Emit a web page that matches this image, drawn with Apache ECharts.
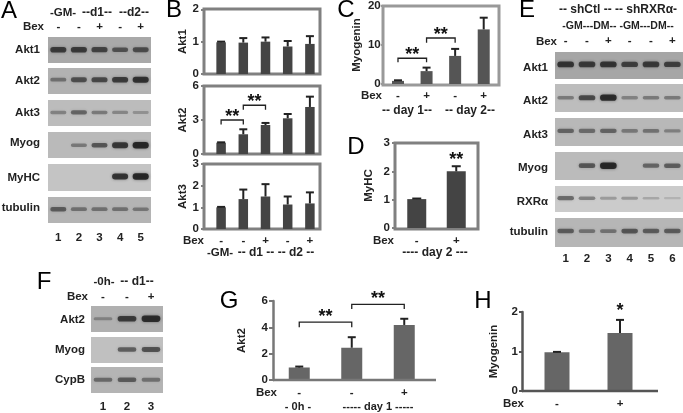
<!DOCTYPE html>
<html><head><meta charset="utf-8">
<style>html,body{margin:0;padding:0;background:#fff}#c{width:683px;height:413px;filter:blur(0.35px)}</style>
<script src="https://cdn.jsdelivr.net/npm/echarts@6/dist/echarts.min.js"></script>
</head><body><div id="c"></div>
<script>
// ---------- data ----------
const bexA = ['-','-','+','-','+'];
const lanesA = ['1','2','3','4','5'];
const blotNamesA = ['Akt1','Akt2','Akt3','Myog','MyHC','tubulin'];
const blotA_Akt1 = [.8,.8,.72,.6,.65];
const blotA_Akt2 = [.4,.65,.7,.8,.9];
const blotA_Akt3 = [.3,.5,.35,.28,.2];
const blotA_Myog = [0,.35,.6,.85,1];
const blotA_MyHC = [0,0,0,.9,1];
const blotA_tubulin = [.55,.4,.4,.4,.35];

const bexE = ['-','-','+','-','-','+'];
const lanesE = ['1','2','3','4','5','6'];
const blotNamesE = ['Akt1','Akt2','Akt3','Myog','RXRα','tubulin'];
const blotE_Akt1 = [.85,.8,.85,.75,.8,.75];
const blotE_Akt2 = [.35,.7,.95,.3,.35,.35];
const blotE_Akt3 = [.5,.45,.5,.35,.4,.3];
const blotE_Myog = [0,.6,1,0,.5,.55];
const blotE_RXRa = [.5,.35,.2,.22,.12,.05];
const blotE_tubulin = [.55,.4,.4,.6,.55,.55];

const bexF = ['-','-','+'];
const lanesF = ['1','2','3'];
const blotNamesF = ['Akt2','Myog','CypB'];
const blotF_Akt2 = [.25,.8,.95];
const blotF_Myog = [0,.55,.65];
const blotF_CypB = [.45,.55,.4];

const bAkt1 = [.98,.97,1.0,.85,.93];
const bAkt1Err = [1.0,1.11,1.13,1.02,1.17];
const bAkt2 = [1,1.74,2.56,3.15,4.15];
const bAkt2Err = [1.03,2.18,2.74,3.53,5.06];
const bAkt3 = [1,1.38,1.5,1.13,1.18];
const bAkt3Err = [1.02,1.82,2.07,1.5,1.69];
const bBrackets = [[0,1,3.0,2.6],[1,2,4.3,3.9]];

const cBex = ['-','+','-','+'];
const cMyogenin = [.8,3.3,7.2,14];
const cErr = [.95,4.2,9,17];
const cBrackets = [[0,1,6.6,5.6],[1,2,11.8,10.6]];

const dBex = ['-','+'];
const dMyHC = [1.02,2.0];
const dErr = [1.04,2.18];
const dStars = [[1,1,2.5,2.5]];

const gBex = ['-','-','+'];
const gAkt2 = [.95,2.45,4.18];
const gErr = [1.02,3.25,4.65];
const gBrackets = [[0,1,4.4,4.0],[1,2,5.75,5.4]];

const hBex = ['-','+'];
const hMyogenin = [.98,1.47];
const hErr = [.99,1.8];
const hStars = [[1,1,2.1,2.1]];

const panelLetters = ['A','B','C','D','E','F','G','H'];
const headA = ['-GM-','--d1--','--d2--'];
const footB = ['-GM-','-- d1 --','-- d2 --'];
const footC = ['-- day 1--','-- day 2--'];
const footD = ['---- day 2 ---'];
const headE = ['-- shCtl -- -- shRXRα-','-GM---DM-- -GM---DM--'];
const headF = ['-0h-','-- d1--'];
const footG = ['- 0h -','----- day 1 -----'];
const bexWord = 'Bex';

// ---------- layout ----------
const grid=[],xAxis=[],yAxis=[],series=[],graphic=[];
const FONT='"Liberation Sans",Arial,sans-serif';
const INK='#222';

function txt(s,x,y,o){o=o||{};
  graphic.push({type:'text',silent:true,z:5,style:{text:s,x:x,y:y,fill:o.fill||INK,
    font:(o.weight||'bold')+' '+(o.size||11.5)+'px '+FONT,
    align:o.align||'center',verticalAlign:'middle',textAlign:o.align||'center',textVerticalAlign:'middle'}});
}
function frame(x0,y0,x1,y1,color){
  graphic.push({type:'rect',silent:true,z:-1,shape:{x:x0,y:y0,width:x1-x0,height:y1-y0},
    style:{fill:'none',stroke:color,lineWidth:3}});
}
function baseline(x0,x1,y,color){
  graphic.push({type:'line',silent:true,z:5,shape:{x1:x0,y1:y,x2:x1,y2:y},style:{stroke:color,lineWidth:2.5}});
}
function blot(r,bg,values,bandPos,labels,side,margin){
  const g=grid.length;
  grid.push({left:r[0],top:r[1],width:r[2]-r[0],height:r[3]-r[1],show:true,backgroundColor:bg,borderWidth:0});
  xAxis.push({gridIndex:g,type:'category',position:side||'bottom',data:labels||values.map(String),
    axisLine:{show:false},axisTick:{show:false},
    axisLabel:{show:!!labels,interval:0,margin:margin||6,color:INK,fontFamily:FONT,fontWeight:'bold',fontSize:11.5}});
  yAxis.push({gridIndex:g,type:'value',min:0,max:1,show:false});
  series.push({type:'custom',xAxisIndex:g,yAxisIndex:g,data:values.map((v,i)=>[i,v]),silent:true,
    renderItem:(p,api)=>{
      const a=api.value(1); if(a<=0) return null;
      const c=api.coord([api.value(0),1-bandPos]);
      const w=api.size([1,0])[0]*.78, h=2+4.5*a;
      const alpha=(.1+.8*a).toFixed(2);
      return {type:'rect',shape:{x:c[0]-w/2,y:c[1]-h/2,width:w,height:h,r:h/2},
        style:{fill:'rgba(30,30,30,'+alpha+')',shadowBlur:3,shadowColor:'rgba(30,30,30,'+(a*.6).toFixed(2)+')'}};
    }});
}
function bars(o){
  const g=grid.length;
  grid.push({left:o.x0,top:o.y0,width:o.x1-o.x0,height:o.y1-o.y0});
  xAxis.push({gridIndex:g,type:'category',data:o.labels||o.values.map(String),
    axisLine:{show:false},axisTick:{show:false},
    axisLabel:{show:!!o.labels,interval:0,margin:o.lm||6,color:INK,fontFamily:FONT,fontWeight:'bold',fontSize:11.5}});
  yAxis.push({gridIndex:g,type:'value',min:0,max:o.max,interval:o.interval,offset:o.offset||0,
    name:o.name,nameLocation:'middle',nameGap:o.nameGap,nameRotate:90,
    nameTextStyle:{color:INK,fontFamily:FONT,fontWeight:'bold',fontSize:11.5},
    splitLine:{show:false},
    axisLine:{show:!!o.axisLine,lineStyle:{color:o.lineColor||'#808080',width:2.5}},
    axisTick:{show:true,length:o.tick||3,lineStyle:{color:o.lineColor||'#808080',width:2}},
    axisLabel:{margin:o.tm||5,color:INK,fontFamily:FONT,fontWeight:'bold',fontSize:11.5}});
  series.push({type:'bar',xAxisIndex:g,yAxisIndex:g,data:o.values,barWidth:o.barWidth,silent:true,z:3,
    itemStyle:{color:o.color}});
  series.push({type:'custom',xAxisIndex:g,yAxisIndex:g,silent:true,z:4,
    data:o.values.map((v,i)=>[i,v,o.err[i]]),
    renderItem:(p,api)=>{
      const a=api.coord([api.value(0),api.value(1)]),b=api.coord([api.value(0),api.value(2)]);
      const cw=o.cap||8;
      return {type:'group',children:[
        {type:'rect',shape:{x:a[0]-1,y:b[1],width:2,height:a[1]-b[1]},style:{fill:'#222'}},
        {type:'rect',shape:{x:a[0]-cw/2,y:b[1]-1,width:cw,height:2},style:{fill:'#222'}}]};
    }});
  if(o.brackets){
    const sz=o.starSize||18, up=o.starUp==null?6:o.starUp;
    series.push({type:'custom',xAxisIndex:g,yAxisIndex:g,silent:true,z:4,
      data:o.brackets,
      renderItem:(p,api)=>{
        const i0=api.value(0),i1=api.value(1);
        const a=api.coord([i0,api.value(2)]),b=api.coord([i1,api.value(2)]),t=api.coord([i0,api.value(3)]);
        const stars=o.starText||'**';
        const ch=[{type:'text',style:{text:stars,x:(a[0]+b[0])/2+(o.starDx||0),y:a[1]-up+3,fill:'#111',
          font:'bold '+sz+'px '+FONT,align:'center',verticalAlign:'middle',textAlign:'center',textVerticalAlign:'middle'}}];
        if(i0!==i1) ch.push({type:'polyline',shape:{points:[[a[0],t[1]],[a[0],a[1]],[b[0],a[1]],[b[0],t[1]]]},
          style:{fill:'none',stroke:'#222',lineWidth:1.3}});
        return {type:'group',children:ch};
      }});
  }
}

// Panel letters
const letterPos=[[9,11],[174,10],[346,10],[356,147],[527,10],[44,282],[229,301],[483,301]];
panelLetters.forEach((l,i)=>txt(l,letterPos[i][0],letterPos[i][1],{size:24,weight:'normal',fill:'#000'}));

// Panel A
const A=[[37,63,'#a9a9a9',blotA_Akt1,.49],[68,94,'#b2b2b2',blotA_Akt2,.45],[100,126,'#bcbcbc',blotA_Akt3,.48],
         [132,158,'#bababa',blotA_Myog,.51],[164,191,'#c4c4c4',blotA_MyHC,.46],[197,223,'#b4b4b4',blotA_tubulin,.47]];
A.forEach((r,i)=>{
  const top=i===0,bot=i===A.length-1;
  blot([48,r[0],151,r[1]],r[2],r[3],r[4],top?bexA:bot?lanesA:null,top?'top':'bottom',top?4:9);
  txt(blotNamesA[i],40,(r[0]+r[1])/2+(i===3||i===5?-2:0),{align:'right'});
});
txt(headA[0],63,13);txt(headA[1],97,13,{weight:'bold',size:12});txt(headA[2],134,13,{size:12});
txt(bexWord,44,27,{align:'right'});

// Panel B
const bCommon={x0:210,x1:321,barWidth:9.5,color:'#444',offset:6,tick:3,tm:5,nameGap:13};
frame(204,9,320,74,'#808080');frame(204,86,320,154,'#808080');frame(204,164,320,229,'#808080');
bars({...bCommon,y0:9.3,y1:74,max:2,interval:1,values:bAkt1,err:bAkt1Err,name:'Akt1'});
bars({...bCommon,y0:86,y1:154,max:6,interval:3,values:bAkt2,err:bAkt2Err,name:'Akt2',brackets:bBrackets});
bars({...bCommon,y0:164,y1:229,max:3,interval:1,values:bAkt3,err:bAkt3Err,name:'Akt3',labels:bexA,lm:6});
txt(bexWord,204,241,{align:'right'});
txt(footB[0],220,253);txt(footB[1],256,253,{size:12});txt(footB[2],296,253,{size:12});

// Panel C
frame(383,6,499,85,'#999');
bars({x0:383.7,x1:498,y0:6,y1:84,max:20,interval:10,values:cMyogenin,err:cErr,barWidth:12,color:'#555',labels:cBex,
      name:'Myogenin',nameGap:21,tick:3,tm:3,lm:6,cap:8,brackets:cBrackets,starUp:6,lineColor:'#999'});
txt(bexWord,382,96,{align:'right'});
txt(footC[0],407,111,{size:12});txt(footC[1],470,111,{size:12});

// Panel D
frame(395,143,478,229,'#808080');
bars({x0:397,x1:476,y0:143,y1:228,max:3,interval:1,offset:2,values:dMyHC,err:dErr,barWidth:19,color:'#444',labels:dBex,
      name:'MyHC',nameGap:20,tick:3,tm:5,lm:7,cap:9,brackets:dStars,starUp:0});
txt(bexWord,394,241,{align:'right'});
txt(footD[0],435,253,{size:12});

// Panel E
const E=[[52,79,'#a6a6a6',blotE_Akt1,.46],[84,112,'#bdbdbd',blotE_Akt2,.49],[118,146,'#b8b8b8',blotE_Akt3,.46],
         [152,180,'#bbbbbb',blotE_Myog,.49],[186,212,'#cbcbcb',blotE_RXRa,.47],[218,247,'#b6b6b6',blotE_tubulin,.45]];
E.forEach((r,i)=>{
  const top=i===0,bot=i===E.length-1;
  blot([555,r[0],683,r[1]],r[2],r[3],r[4],top?bexE:bot?lanesE:null,top?'top':'bottom',top?5:6);
  txt(blotNamesE[i],548,(r[0]+r[1])/2+(i===0||i===3?2:i===5?-1:3),{align:'right'});
});
txt(headE[0],618,10,{size:12});txt(headE[1],618,26,{size:10.5});
txt(bexWord,557,42,{align:'right'});

// Panel F
const F=[[306,332,'#b0b0b0',blotF_Akt2,.49],[337,363,'#c0c0c0',blotF_Myog,.48],[367,393,'#b4b4b4',blotF_CypB,.49]];
F.forEach((r,i)=>{
  const top=i===0,bot=i===F.length-1;
  blot([91,r[0],163,r[1]],r[2],r[3],r[4],top?bexF:bot?lanesF:null,top?'top':'bottom',top?3:8);
  txt(blotNamesF[i],85,(r[0]+r[1])/2+(i===0?1:0),{align:'right'});
});
txt(headF[0],104,282);txt(headF[1],137,282,{size:12});
txt(bexWord,88,297,{align:'right'});

// Panel G
baseline(273,436,380,'#777');
bars({x0:273,x1:430.5,y0:301,y1:380,max:6,interval:2,values:gAkt2,err:gErr,barWidth:21,color:'#666',labels:gBex,
      name:'Akt2',nameGap:25,axisLine:true,lineColor:'#777',tick:4,tm:5,lm:7,cap:8,brackets:gBrackets,starUp:8});
txt(bexWord,277,393,{align:'right'});
txt(footG[0],298,407,{size:11});txt(footG[1],378,407,{size:11});

// Panel H
baseline(522,658,391,'#555');
bars({x0:525.5,x1:651.5,y0:312,y1:391,max:2,interval:1,offset:3.5,values:hMyogenin,err:hErr,barWidth:25,color:'#666',labels:hBex,
      name:'Myogenin',nameGap:22,axisLine:true,lineColor:'#555',tick:3,tm:4,lm:7,cap:8,brackets:hStars,starUp:0,starText:'*'});
txt(bexWord,524,404,{align:'right'});

const chart=echarts.init(document.getElementById('c'),null,{renderer:'canvas',width:683,height:413});
chart.setOption({animation:false,backgroundColor:'#fff',grid,xAxis,yAxis,series,graphic});
</script></body></html>
